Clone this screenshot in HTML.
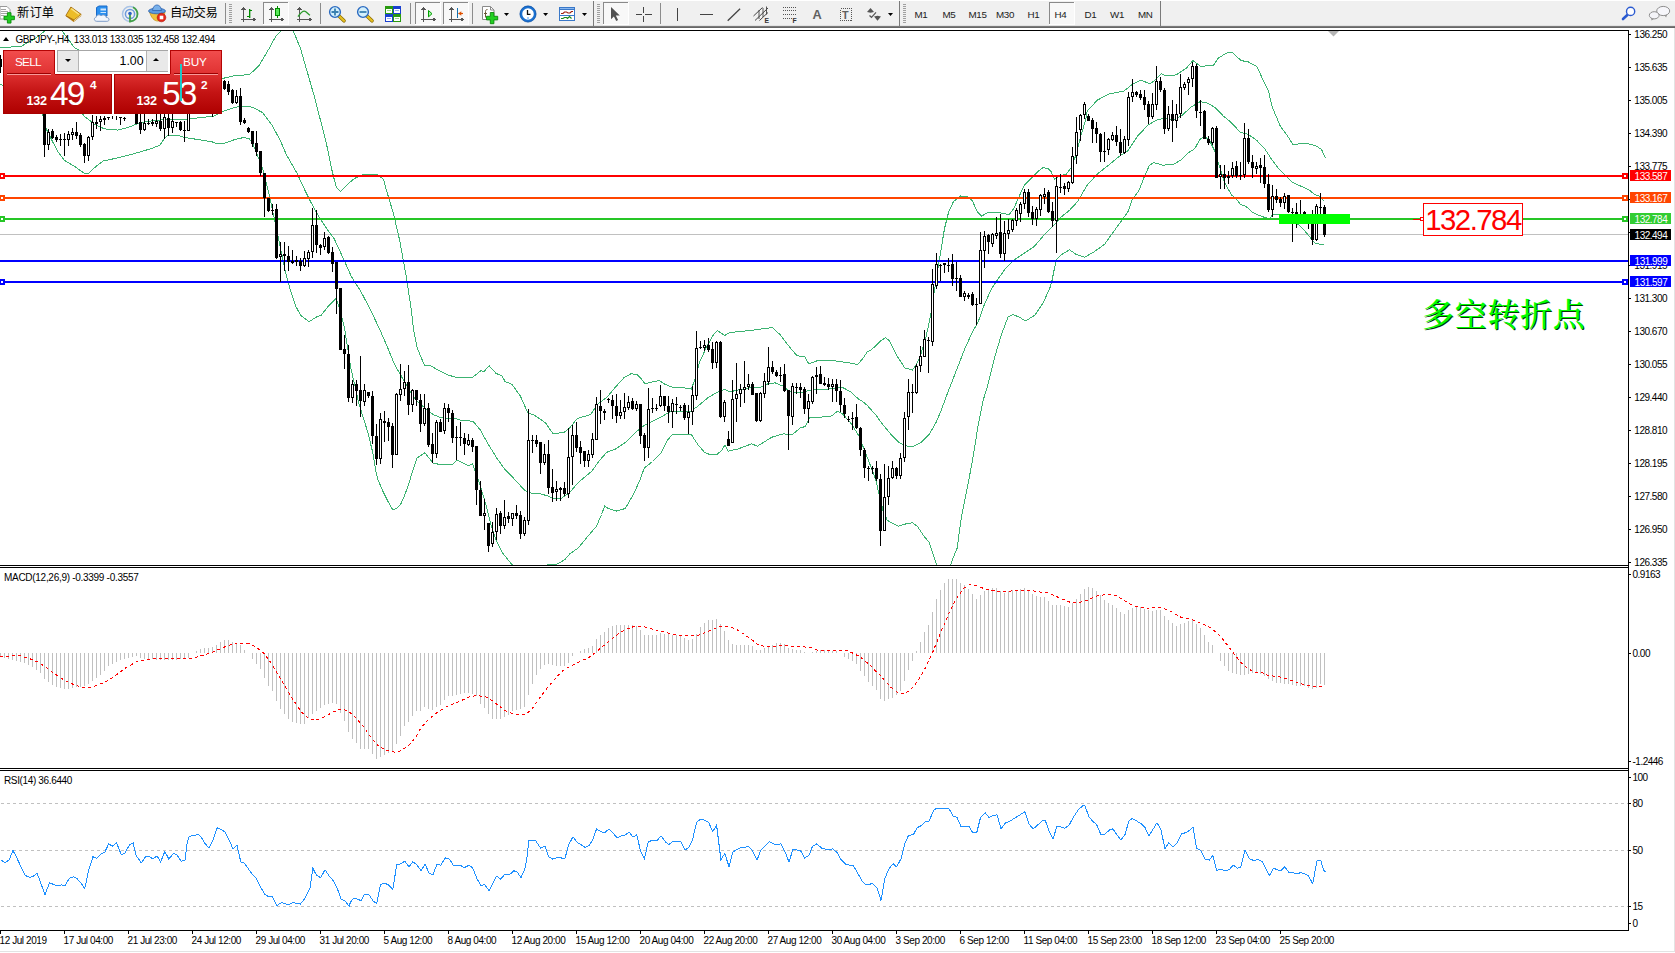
<!DOCTYPE html>
<html lang="zh-CN">
<head>
<meta charset="utf-8">
<title>GBPJPY-,H4</title>
<style>
html,body{margin:0;padding:0;background:#fff;}
body{width:1675px;height:953px;position:relative;overflow:hidden;font-family:"Liberation Sans","Noto Sans CJK SC",sans-serif;}
.t{position:absolute;white-space:pre;font-family:"Liberation Sans","Noto Sans CJK SC",sans-serif;}
.pl{position:absolute;left:1630px;width:41px;height:11px;}
.cn{position:absolute;white-space:nowrap;font-family:"Liberation Serif","Noto Serif CJK SC",serif;font-weight:500;font-size:32px;line-height:44px;color:#00ff00;text-shadow:1px 1px 0 #043804;letter-spacing:0.7px;}
#tb{position:absolute;left:0;top:0;width:1675px;height:26px;background:#f0f0f0;border-top:1px solid #fff;box-sizing:border-box;}
#tbl{position:absolute;left:0;top:25px;width:1675px;height:3px;background:linear-gradient(#e2e2e2 0 33.3%,#7a7a7a 33.3% 66.6%,#666 66.6% 100%);}
#chart{position:absolute;left:0;top:0;width:1675px;height:953px;}
.tf{position:absolute;top:8px;height:14px;line-height:14px;font-size:9.8px;color:#222;letter-spacing:-0.3px;white-space:nowrap;}
.sep{position:absolute;top:3px;width:1px;height:21px;background:#a8a8a8;box-shadow:1px 0 0 #fff;}
.grip{position:absolute;top:4px;width:3px;height:19px;background:repeating-linear-gradient(#9c9c9c 0 1px,#f0f0f0 1px 2px);}
.btn{position:absolute;top:2px;height:22px;box-sizing:border-box;border:1px solid #c4c4c4;background:#f8f8f8;}
.ic{position:absolute;top:0;}
.cnb{position:absolute;top:5px;height:16px;line-height:16px;font-size:12.3px;color:#000;white-space:nowrap;font-family:"Liberation Sans","Noto Sans CJK SC",sans-serif;}
.dd{position:absolute;top:12px;width:0;height:0;border-left:3px solid transparent;border-right:3px solid transparent;border-top:3px solid #000;}
/* one click panel */
#oc{position:absolute;left:0;top:0;}
.red{position:absolute;background:linear-gradient(#ef4a4a,#b40000);}
</style>
</head>
<body>
<div id="tb"></div><div id="tbl"></div>
<svg class="ic" width="1675" height="28" viewBox="0 0 1675 28">
<g shape-rendering="crispEdges">
<rect x="263" y="2" width="26" height="23" fill="#f8f8f8"/><rect x="263" y="2" width="25" height="1" fill="#8a8a8a"/><rect x="263" y="2" width="1" height="22" fill="#8a8a8a"/><rect x="288" y="2" width="1" height="23" fill="#fff"/><rect x="263" y="24" width="26" height="1" fill="#fff"/>
<rect x="415" y="2" width="26" height="23" fill="#f8f8f8"/><rect x="415" y="2" width="25" height="1" fill="#8a8a8a"/><rect x="415" y="2" width="1" height="22" fill="#8a8a8a"/><rect x="440" y="2" width="1" height="23" fill="#fff"/><rect x="415" y="24" width="26" height="1" fill="#fff"/>
<rect x="443" y="2" width="26" height="23" fill="#f8f8f8"/><rect x="443" y="2" width="25" height="1" fill="#8a8a8a"/><rect x="443" y="2" width="1" height="22" fill="#8a8a8a"/><rect x="468" y="2" width="1" height="23" fill="#fff"/><rect x="443" y="24" width="26" height="1" fill="#fff"/>
<rect x="603" y="2" width="26" height="23" fill="#f8f8f8"/><rect x="603" y="2" width="25" height="1" fill="#8a8a8a"/><rect x="603" y="2" width="1" height="22" fill="#8a8a8a"/><rect x="628" y="2" width="1" height="23" fill="#fff"/><rect x="603" y="24" width="26" height="1" fill="#fff"/>
<rect x="1049" y="2" width="26" height="23" fill="#f8f8f8"/><rect x="1049" y="2" width="25" height="1" fill="#8a8a8a"/><rect x="1049" y="2" width="1" height="22" fill="#8a8a8a"/><rect x="1074" y="2" width="1" height="23" fill="#fff"/><rect x="1049" y="24" width="26" height="1" fill="#fff"/>
<rect x="225" y="3" width="1" height="21" fill="#8c8c8c"/>
<rect x="320" y="3" width="1" height="21" fill="#8c8c8c"/>
<rect x="410" y="3" width="1" height="21" fill="#8c8c8c"/>
<rect x="472" y="3" width="1" height="21" fill="#8c8c8c"/>
<rect x="660" y="3" width="1" height="21" fill="#8c8c8c"/>
<rect x="1160" y="1" width="1" height="25" fill="#7a7a7a"/>
<rect x="593" y="1" width="1" height="25" fill="#7a7a7a"/>
<rect x="899" y="1" width="1" height="25" fill="#7a7a7a"/>
<rect x="229" y="4" width="3" height="1" fill="#a0a0a0"/><rect x="229" y="6" width="3" height="1" fill="#a0a0a0"/><rect x="229" y="8" width="3" height="1" fill="#a0a0a0"/><rect x="229" y="10" width="3" height="1" fill="#a0a0a0"/><rect x="229" y="12" width="3" height="1" fill="#a0a0a0"/><rect x="229" y="14" width="3" height="1" fill="#a0a0a0"/><rect x="229" y="16" width="3" height="1" fill="#a0a0a0"/><rect x="229" y="18" width="3" height="1" fill="#a0a0a0"/><rect x="229" y="20" width="3" height="1" fill="#a0a0a0"/><rect x="229" y="22" width="3" height="1" fill="#a0a0a0"/>
<rect x="597" y="4" width="3" height="1" fill="#a0a0a0"/><rect x="597" y="6" width="3" height="1" fill="#a0a0a0"/><rect x="597" y="8" width="3" height="1" fill="#a0a0a0"/><rect x="597" y="10" width="3" height="1" fill="#a0a0a0"/><rect x="597" y="12" width="3" height="1" fill="#a0a0a0"/><rect x="597" y="14" width="3" height="1" fill="#a0a0a0"/><rect x="597" y="16" width="3" height="1" fill="#a0a0a0"/><rect x="597" y="18" width="3" height="1" fill="#a0a0a0"/><rect x="597" y="20" width="3" height="1" fill="#a0a0a0"/><rect x="597" y="22" width="3" height="1" fill="#a0a0a0"/>
<rect x="903" y="4" width="3" height="1" fill="#a0a0a0"/><rect x="903" y="6" width="3" height="1" fill="#a0a0a0"/><rect x="903" y="8" width="3" height="1" fill="#a0a0a0"/><rect x="903" y="10" width="3" height="1" fill="#a0a0a0"/><rect x="903" y="12" width="3" height="1" fill="#a0a0a0"/><rect x="903" y="14" width="3" height="1" fill="#a0a0a0"/><rect x="903" y="16" width="3" height="1" fill="#a0a0a0"/><rect x="903" y="18" width="3" height="1" fill="#a0a0a0"/><rect x="903" y="20" width="3" height="1" fill="#a0a0a0"/><rect x="903" y="22" width="3" height="1" fill="#a0a0a0"/>
</g>
<path d="M0 6.500h7l3 3v9.500h-10z" fill="#fff" stroke="#9a9a9a" stroke-width="1"/>
<path d="M1 9.500h5M1 11.500h7M1 13.500h7M1 15.500h3" stroke="#a4a4a4" stroke-width="1"/>
<path d="M7.400 12.700h3.600v3.400h3.400v3.600h-3.400v3.400h-3.600v-3.400h-3.400v-3.600h3.400z" fill="#22cc22" stroke="#0a8a0a" stroke-width="0.900"/>
<path d="M70.900 7l10.300 7.400v1.600l-7.500 6-7.900-5.800z" fill="#b87c10"/>
<path d="M70.900 7l10.300 7.400-7.200 5.600-8.200-4.400z" fill="#ecbc28" stroke="#a06a10" stroke-width="0.800"/>
<path d="M71.300 8.600l7.600 5.600" stroke="#fae28a" stroke-width="1.400" fill="none"/>
<path d="M74 20.700l7.200-5.600" stroke="#f4e4b0" stroke-width="0.900" fill="none"/>
<path d="M96.500 7.500l2.500-1.500h8v10h-10.500z" fill="#2a90f0" stroke="#1a6ac8" stroke-width="1"/>
<path d="M100.500 8.500h5.500v2h-5.500zM100.500 12h5.500v1h-5.500z" fill="#cfe6fc"/>
<path d="M96.800 21.300c-3 0-3.300-3.700-0.600-4.100 0.300-2.500 3.600-3.100 4.800-1.300 1.700-1.900 5.200-0.900 5.200 1.600 3.200-0.400 4 3.800 0.700 3.800z" fill="#f2f6fc" stroke="#7e9cc8" stroke-width="1"/>
<circle cx="130" cy="14" r="7.500" fill="none" stroke="#a9c3e6" stroke-width="1.500"/>
<circle cx="130" cy="14" r="4.600" fill="none" stroke="#6d9bdc" stroke-width="1.500"/>
<path d="M130 14v7.500c4.500-0.500 7.500-3.600 7.500-7.500-0.200-3-2-5.600-4.500-6.800" fill="none" stroke="#42a046" stroke-width="1.800"/>
<circle cx="130" cy="13.500" r="1.800" fill="#2c62c8"/>
<path d="M149.500 12c2 6 4.500 9 8.500 9s6-3.500 7-9z" fill="#f0c23c" stroke="#c8961a" stroke-width="0.800"/>
<ellipse cx="157" cy="11" rx="8.500" ry="2.800" fill="#5c9ade" stroke="#2c62b0" stroke-width="0.800"/>
<path d="M152.500 10.500c0.500-4 2.500-5.500 4.500-5.500s4 1.500 4.500 5.500z" fill="#78b0ea" stroke="#2c62b0" stroke-width="0.800"/>
<circle cx="161.500" cy="17.500" r="4.300" fill="#e42a1a" stroke="#b01008" stroke-width="0.600"/>
<rect x="159.700" y="15.700" width="3.600" height="3.600" fill="#fff"/>
<g shape-rendering="crispEdges">
<g fill="#555"><rect x="243" y="8" width="1" height="14"/><rect x="241" y="19" width="13" height="1"/><path d="M243.5 6.500l2.300 3.200h-4.600z"/><path d="M256 19.500l-3.200-2.300v4.600z"/></g>
<g fill="#555"><rect x="271" y="8" width="1" height="14"/><rect x="269" y="19" width="13" height="1"/><path d="M271.5 6.500l2.300 3.200h-4.600z"/><path d="M284 19.500l-3.200-2.300v4.600z"/></g>
<g fill="#555"><rect x="299" y="8" width="1" height="14"/><rect x="297" y="19" width="13" height="1"/><path d="M299.5 6.500l2.300 3.200h-4.600z"/><path d="M312 19.500l-3.200-2.300v4.600z"/></g>
<g fill="#555"><rect x="423" y="8" width="1" height="14"/><rect x="421" y="19" width="13" height="1"/><path d="M423.5 6.500l2.300 3.200h-4.600z"/><path d="M436 19.500l-3.200-2.300v4.600z"/></g>
<g fill="#555"><rect x="451" y="8" width="1" height="14"/><rect x="449" y="19" width="13" height="1"/><path d="M451.5 6.500l2.300 3.200h-4.600z"/><path d="M464 19.500l-3.200-2.300v4.600z"/></g>
<rect x="249" y="9" width="1" height="9" fill="#008a00"/><rect x="250" y="10" width="2" height="1" fill="#008a00"/><rect x="247" y="16" width="2" height="1" fill="#008a00"/>
<rect x="249" y="9" width="2" height="9" fill="#008a00" opacity="0.35"/>
<rect x="277" y="6" width="1" height="12" fill="#008a00"/>
<rect x="275" y="8" width="5" height="8" fill="#008a00"/><rect x="276" y="9" width="3" height="6" fill="#58e858"/>
<rect x="457" y="8" width="1" height="10" fill="#1070b0"/>
</g>
<path d="M298 16.700c2-3 4-5.500 6.300-5.500 2 0 3.500 2.800 5.700 4" stroke="#2a9a2a" stroke-width="1.300" fill="none"/>
<path d="M428.500 10.500l3.500 3.200-3.500 3.200z" fill="#a8f0a8" stroke="#00a000" stroke-width="1"/>
<path d="M463 13.500h-4.500" stroke="#e05000" stroke-width="1.200"/><path d="M458.300 13.500l3-2.300v4.600z" fill="#e05000"/>
<path d="M339.0 16l5 4.800" stroke="#8a6a00" stroke-width="3.600" stroke-linecap="round"/>
<path d="M339.0 16l5 4.800" stroke="#e6c020" stroke-width="2.200" stroke-linecap="round"/>
<circle cx="335" cy="12" r="5.400" fill="#d4f0fc" stroke="#2a6ac0" stroke-width="1.400"/>
<path d="M331.5 12h7M335 8.500v7" stroke="#3a80b0" stroke-width="1.800"/>
<path d="M367.0 16l5 4.800" stroke="#8a6a00" stroke-width="3.600" stroke-linecap="round"/>
<path d="M367.0 16l5 4.800" stroke="#e6c020" stroke-width="2.200" stroke-linecap="round"/>
<circle cx="363" cy="12" r="5.400" fill="#d4f0fc" stroke="#2a6ac0" stroke-width="1.400"/>
<path d="M359.5 12h7" stroke="#3a80b0" stroke-width="1.800"/>
<g shape-rendering="crispEdges">
<rect x="385" y="6" width="8" height="8" fill="#2a9a10"/>
<rect x="386" y="9" width="6" height="4" fill="#fff"/>
<rect x="387" y="10" width="4" height="1" fill="#9ad88a"/>
<rect x="393" y="6" width="8" height="8" fill="#1a40d0"/>
<rect x="394" y="9" width="6" height="4" fill="#fff"/>
<rect x="395" y="10" width="4" height="1" fill="#9ab0f0"/>
<rect x="385" y="14" width="8" height="8" fill="#1a40d0"/>
<rect x="386" y="17" width="6" height="4" fill="#fff"/>
<rect x="387" y="18" width="4" height="1" fill="#9ab0f0"/>
<rect x="393" y="14" width="8" height="8" fill="#2a9a10"/>
<rect x="394" y="17" width="6" height="4" fill="#fff"/>
<rect x="395" y="18" width="4" height="1" fill="#9ad88a"/>
</g>
<path d="M482.500 6.500h8l3.500 3.500v9.500h-11.500z" fill="#fff" stroke="#8a8a8a" stroke-width="1"/>
<path d="M490.500 6.500v3.500h3.500" fill="none" stroke="#8a8a8a" stroke-width="1"/>
<path d="M487.500 9.500c-1.500 0-2 0.800-2 2v6M484 13.500h3" fill="none" stroke="#6a5a3a" stroke-width="1"/>
<path d="M490.300 12.500h3.600v3.800h3.800v3.600h-3.800v3.800h-3.600v-3.800h-3.800v-3.600h3.800z" fill="#22d022" stroke="#0a8a0a" stroke-width="0.900"/>
<path d="M504.0 13h5l-2.500 3z" fill="#000"/>
<path d="M543.1 13h5l-2.500 3z" fill="#000"/>
<path d="M582.0 13h5l-2.500 3z" fill="#000"/>
<path d="M888.0 13h5l-2.500 3z" fill="#000"/>
<circle cx="528" cy="14" r="7" fill="#fff" stroke="#1a70d0" stroke-width="2.400"/>
<circle cx="528" cy="14" r="8.100" fill="none" stroke="#0a4a9c" stroke-width="0.600"/>
<path d="M527.500 10v4.300h3" stroke="#111" stroke-width="1.300" fill="none"/>
<rect x="527" y="17.500" width="2" height="1" fill="#4aa0ff"/>
<g shape-rendering="crispEdges">
<rect x="559" y="7" width="16" height="14" fill="#3a78c8"/>
<rect x="560" y="10" width="14" height="5" fill="#fff"/><rect x="560" y="16" width="14" height="4" fill="#fff"/>
<rect x="560" y="8" width="14" height="1" fill="#8ab8f0"/>
</g>
<path d="M561 13.500h2l1.500-1.500h2l1.500 1h2l1.500-1.500h1.500" stroke="#a02010" stroke-width="1.100" fill="none"/>
<path d="M561 18.500h2l1.500-1h2l1 1 2-2 2 2" stroke="#1a8a1a" stroke-width="1.100" fill="none"/>
<path d="M611 7v12.200l2.900-2.700 2.300 4.600 1.900-1-2.300-4.500h4z" fill="#505050"/>
<g shape-rendering="crispEdges" fill="#444"><rect x="643" y="7" width="1" height="6"/><rect x="643" y="16" width="1" height="6"/><rect x="636" y="14" width="6" height="1"/><rect x="645" y="14" width="7" height="1"/>
<rect x="677" y="8" width="1" height="13"/><rect x="700" y="14" width="13" height="1"/></g>
<path d="M727.700 20.800l12.400-12.100" stroke="#444" stroke-width="1.300"/>
<g stroke="#444" stroke-width="1" fill="none"><path d="M753.500 16l9-8.500M755 20.500l13-12.500M759.500 20.500l8.500-8"/><path d="M759 10v9M763 8v9M766.500 6.500v8" stroke-width="0.900"/></g>
<text x="764.600" y="22.800" font-family="Liberation Sans,sans-serif" font-size="6.800" font-weight="700" fill="#333">E</text>
<g stroke="#555" stroke-width="1" stroke-dasharray="1 1" shape-rendering="crispEdges"><path d="M783 7.500h14M783 10.500h14M783 14.500h14M783 18.500h9"/></g>
<text x="792.600" y="22.800" font-family="Liberation Sans,sans-serif" font-size="6.800" font-weight="700" fill="#333">F</text>
<text x="812.600" y="19.200" font-family="Liberation Sans,sans-serif" font-size="12.800" font-weight="700" fill="#606060">A</text>
<rect x="840.500" y="8.500" width="11" height="12" fill="none" stroke="#555" stroke-width="1" stroke-dasharray="1 1" shape-rendering="crispEdges"/>
<text x="842" y="18.800" font-family="Liberation Sans,sans-serif" font-size="10.800" font-weight="700" fill="#606060">T</text>
<path d="M867 12l3.500-4 3.500 4-3.500 0.800z" fill="#555"/><path d="M874 16.500l3.500-0.800 3.500 0.800-3.500 4.200z" fill="#555"/><path d="M869.500 15.500l2 1.800 4.500-5" stroke="#555" stroke-width="1.200" fill="none"/>
<path d="M1627.300 15l-4.300 4" stroke="#2a5ad0" stroke-width="2.600" stroke-linecap="round"/>
<circle cx="1630.600" cy="11.400" r="4.100" fill="#fdfdff" stroke="#2a5ad0" stroke-width="1.400"/>
<path d="M1664.300 15l1.800 2.500 0.900-2.800z" fill="#8a8a8a"/>
<ellipse cx="1663.200" cy="11" rx="6.500" ry="4.600" fill="#f6f6fa" stroke="#8e8e8e" stroke-width="1"/>
<path d="M1651.300 18l0.200 2.600 2.600-1.900z" fill="#8a8a8a"/>
<ellipse cx="1654.200" cy="15.300" rx="4.900" ry="3.600" fill="#f4f4f8" stroke="#8e8e8e" stroke-width="1"/>
</svg>
<div class="cnb" style="left:17px;letter-spacing:0.1px;">新订单</div>
<div class="cnb" style="left:170px;letter-spacing:-0.5px;">自动交易</div>
<div class="tf" style="left:914.5px">M1</div>
<div class="tf" style="left:942.5px">M5</div>
<div class="tf" style="left:968.5px">M15</div>
<div class="tf" style="left:996px">M30</div>
<div class="tf" style="left:1027.5px">H1</div>
<div class="tf" style="left:1054.5px">H4</div>
<div class="tf" style="left:1084.5px">D1</div>
<div class="tf" style="left:1110px">W1</div>
<div class="tf" style="left:1138px">MN</div>
<svg id="chart" width="1675" height="953" viewBox="0 0 1675 953">
<defs><clipPath id="cm"><rect x="0" y="31" width="1628" height="534"/></clipPath></defs>
<g clip-path="url(#cm)" shape-rendering="crispEdges">
<rect x="0" y="234" width="1628" height="1" fill="#c0c0c0"/>
<polyline points="0.5,47.7 21.1,46.3 35.5,38.5 44.5,31.2 50.5,27.5 56.5,27.5 62.3,31.2 74.5,47.7 100.5,60.5 140.5,72.5 180.5,78.5 210.5,80.5 224.5,78.0 235.5,75.5 248.9,74.7 254.0,70.5 259.1,65.5 269.1,48.5 276.2,35.5 281.5,30.5 287.5,27.5 293.5,31.5 300.5,48.5 314.5,97.1 326.2,142.5 331.5,168.5 336.2,187.1 340.5,191.5 347.5,184.2 354.5,178.5 363.5,174.5 377.5,174.5 383.5,179.5 386.5,190.5 393.1,212.3 399.8,240.9 406.5,277.8 411.5,311.4 413.7,330.5 417.0,347.3 424.5,365.5 430.5,365.8 438.0,369.9 448.1,375.0 458.2,378.0 472.4,377.5 480.8,370.8 484.2,371.3 489.2,365.8 495.9,373.3 501.8,375.8 505.2,381.7 511.9,384.2 520.3,396.0 527.8,412.8 534.5,415.3 545.5,422.8 553.0,433.7 563.9,432.5 568.9,428.7 577.3,418.5 590.8,414.5 597.2,404.5 607.3,396.9 615.7,386.8 624.1,377.5 630.8,373.9 636.7,374.2 640.9,378.5 645.1,384.0 652.5,381.8 659.3,380.5 664.4,384.0 672.8,387.5 684.5,388.0 691.2,389.0 694.5,380.9 699.5,362.5 706.3,347.4 713.0,335.5 717.2,330.5 724.8,335.5 729.8,332.5 750.0,330.5 772.5,327.5 780.2,334.8 788.5,345.7 797.0,355.8 804.5,356.5 808.7,363.8 817.1,360.8 833.9,360.8 847.3,362.5 857.4,364.5 862.5,359.1 867.5,351.5 870.5,350.7 880.5,341.1 885.5,337.5 889.7,341.1 897.3,356.3 904.8,368.0 912.4,370.0 916.5,364.5 920.8,354.5 925.8,337.8 930.9,314.3 935.9,280.7 940.9,250.5 944.5,228.5 948.5,212.5 953.5,201.5 960.5,196.0 967.2,196.9 972.3,200.7 977.3,212.0 981.5,216.2 987.4,212.8 995.8,212.0 1004.1,213.7 1009.2,214.5 1014.2,207.8 1019.3,196.0 1024.3,185.1 1031.0,178.4 1037.7,171.7 1042.8,167.8 1047.8,168.3 1051.1,171.7 1054.5,179.3 1059.5,175.9 1066.3,174.2 1071.3,167.5 1076.3,154.1 1081.4,133.9 1085.5,120.5 1087.3,111.0 1097.4,100.1 1109.1,93.9 1124.2,90.9 1132.5,84.1 1141.0,79.9 1149.4,83.8 1154.5,80.8 1161.1,73.7 1166.2,75.8 1176.3,74.9 1186.3,68.2 1193.0,60.5 1201.5,67.0 1208.2,65.3 1213.2,65.7 1218.2,58.1 1226.5,53.1 1232.5,52.5 1240.9,60.5 1248.5,62.0 1256.8,66.5 1263.5,80.8 1268.5,90.9 1271.9,106.0 1275.3,114.4 1280.3,126.1 1287.1,135.3 1292.9,144.5 1305.5,143.2 1315.5,145.5 1321.5,149.5 1325.5,158.0" fill="none" stroke="#3cb371" stroke-width="1" />
<polyline points="0.5,84.5 30.5,95.5 60.5,102.5 80.5,111.5 84.5,116.5 94.5,124.2 104.5,128.9 118.0,130.1 128.1,127.5 139.5,122.9 151.5,120.9 168.5,119.2 185.2,119.5 201.5,117.5 213.5,116.2 222.9,111.5 232.2,108.3 240.5,106.1 252.3,107.1 262.4,112.5 272.5,125.9 280.5,141.0 286.2,154.2 297.5,174.2 305.0,190.5 310.9,202.3 319.3,217.4 327.5,229.9 334.4,239.2 344.5,261.0 351.1,276.1 361.2,292.1 371.3,311.4 381.4,333.2 387.5,347.3 394.4,364.1 401.1,375.8 407.8,387.5 416.2,400.2 424.5,407.7 433.0,414.5 441.4,417.8 454.8,418.5 463.2,420.8 472.9,421.1 480.0,429.5 488.4,444.5 496.8,458.1 505.2,469.8 513.5,478.2 524.5,490.1 529.5,492.9 539.5,493.5 547.9,496.0 553.0,498.5 561.4,498.2 569.8,492.5 578.2,482.5 591.5,471.5 600.0,459.9 606.7,452.3 615.7,448.9 625.8,442.2 634.1,433.8 642.5,426.5 652.5,421.2 662.7,416.2 669.5,412.0 681.1,411.1 691.2,411.1 697.9,406.1 708.0,397.7 718.1,391.8 724.8,389.3 729.8,391.8 741.5,389.3 751.5,387.5 760.0,387.5 768.5,383.5 775.2,382.9 783.5,386.3 788.5,391.0 798.5,393.0 807.0,391.0 817.1,389.0 828.9,389.0 842.3,387.3 850.5,391.8 859.1,399.5 861.5,400.5 867.3,405.5 875.7,414.8 882.4,424.0 890.8,434.1 899.2,442.5 905.9,445.8 912.5,446.7 921.0,442.5 929.4,434.1 936.1,422.3 941.1,410.5 947.5,393.2 956.0,371.4 964.5,349.5 972.8,331.1 977.9,322.7 984.5,304.2 991.3,289.1 998.0,279.0 1005.8,268.2 1014.2,259.8 1024.3,253.1 1034.4,246.4 1044.5,234.5 1052.8,226.3 1061.2,217.0 1069.5,210.3 1078.0,201.1 1087.3,184.9 1097.4,174.0 1109.1,164.7 1119.2,156.3 1127.5,151.3 1137.5,136.2 1147.7,125.3 1157.8,119.4 1164.5,118.5 1174.5,119.4 1181.3,116.0 1191.4,106.8 1199.8,101.8 1206.5,102.5 1214.9,107.5 1223.3,116.0 1231.5,122.8 1240.0,132.0 1248.5,134.5 1256.8,140.4 1265.2,149.5 1271.9,159.7 1278.3,168.1 1284.5,174.3 1292.1,181.9 1299.7,185.7 1308.5,189.5 1314.8,194.5 1319.8,196.4 1324.2,201.0" fill="none" stroke="#3cb371" stroke-width="1" />
<polyline points="4.5,104.5 30.5,106.5 42.5,113.5 45.5,127.5 50.5,137.5 57.5,151.1 64.3,160.3 74.4,166.2 84.5,173.5 88.5,173.5 96.2,166.2 102.9,161.1 118.0,157.8 134.8,153.5 151.5,148.5 160.0,145.2 165.0,137.5 168.5,135.1 176.5,135.1 185.2,137.5 201.9,140.2 212.0,141.8 217.0,144.0 223.5,143.5 235.5,139.3 243.9,137.5 248.9,138.5 252.3,142.5 262.4,167.9 269.1,194.5 277.3,232.5 285.5,272.5 290.7,291.2 295.8,306.3 300.8,315.5 309.2,321.8 315.9,317.2 320.9,315.5 327.5,307.2 336.0,298.3 339.5,308.0 344.5,328.2 350.7,367.5 359.1,404.4 367.5,431.2 372.5,451.4 375.7,470.5 377.7,478.9 382.5,490.5 387.7,500.9 393.0,510.2 397.2,507.8 400.8,504.1 404.5,495.7 408.7,484.1 412.0,473.2 417.0,458.1 424.9,452.7 433.0,463.1 441.4,464.8 453.1,464.0 457.3,460.1 468.2,465.5 472.5,464.0 475.8,472.5 480.8,487.5 485.8,504.4 490.9,524.5 495.9,539.5 502.5,553.0 512.7,565.5 520.5,572.5 540.5,572.5 547.9,564.8 556.3,564.5 564.7,559.8 569.8,553.9 578.2,548.0 586.5,537.9 596.5,526.2 601.5,514.5 604.7,506.0 608.4,508.5 616.8,511.1 625.2,508.5 633.5,494.3 640.3,479.2 644.2,468.2 652.5,461.5 661.0,453.1 667.7,439.7 672.8,434.3 691.2,434.3 697.9,444.7 704.5,452.3 709.7,454.5 716.5,454.8 721.5,450.5 724.8,445.1 728.2,451.1 738.2,448.9 751.5,443.9 757.5,446.1 765.1,441.4 771.8,437.2 783.5,433.8 791.9,435.0 800.3,427.9 805.4,426.5 809.5,417.5 822.2,417.0 832.2,415.9 837.3,411.1 842.3,413.7 850.7,422.9 858.9,435.8 867.3,457.5 875.7,479.4 879.9,497.9 883.2,511.3 887.4,520.5 898.3,526.1 905.9,523.9 912.5,522.7 917.5,526.4 923.5,535.5 929.1,542.3 935.3,560.5 937.0,565.5 940.5,575.5 947.5,575.5 950.5,565.5 952.1,560.5 957.1,548.2 961.3,518.0 968.0,484.4 973.0,457.5 978.1,425.7 983.1,400.5 987.9,384.8 994.5,357.9 1001.4,334.5 1008.1,316.8 1013.1,314.5 1019.8,317.5 1025.7,321.0 1034.9,315.1 1043.3,302.5 1050.0,287.5 1052.0,280.5 1056.2,259.8 1061.2,254.8 1069.5,249.8 1076.3,254.5 1084.7,257.3 1094.8,251.4 1104.9,243.9 1111.5,234.5 1120.0,222.9 1128.4,211.1 1131.8,200.5 1139.3,189.9 1144.4,176.5 1149.4,165.5 1153.5,162.7 1162.8,165.1 1172.9,164.7 1181.3,159.7 1188.0,153.0 1194.7,148.8 1199.8,139.5 1204.8,136.2 1209.8,141.2 1214.9,151.3 1219.9,168.1 1224.9,183.2 1231.5,194.9 1235.8,198.5 1240.5,204.5 1245.5,206.1 1253.1,212.7 1259.4,215.5 1265.7,217.8 1269.5,218.7 1273.2,214.0 1279.5,214.9 1290.5,218.5 1298.5,224.7 1306.0,232.3 1311.0,238.5 1314.8,243.0 1321.1,244.5 1324.2,245.1" fill="none" stroke="#3cb371" stroke-width="1" />
<rect x="0" y="175" width="1628" height="2" fill="#ff0000"/>
<rect x="0" y="197" width="1628" height="2" fill="#ff4500"/>
<rect x="0" y="218" width="1628" height="2" fill="#26c626"/>
<rect x="0" y="260" width="1628" height="2" fill="#0000ff"/>
<rect x="0" y="281" width="1628" height="2" fill="#0000ff"/>
<path d="M0 55h1v18h-1zM-1 59h3v8h-3zM44 100h1v57h-1zM43 100h3v45h-3zM48 129h1v21h-1zM47 132h3v13h-3zM52 129h1v10h-1zM51 131h3v7h-3zM56 135h1v7h-1zM55 137h3v3h-3zM60 134h1v12h-1zM59 139h3v1h-3zM64 133h1v23h-1zM63 139h3v1h-3zM68 131h1v15h-1zM67 134h3v6h-3zM72 128h1v12h-1zM71 132h3v3h-3zM76 122h1v17h-1zM75 132h3v4h-3zM80 133h1v14h-1zM79 135h3v10h-3zM84 143h1v20h-1zM83 144h3v12h-3zM88 136h1v25h-1zM87 137h3v19h-3zM92 115h1v25h-1zM91 122h3v15h-3zM96 116h1v13h-1zM95 122h3v2h-3zM100 116h1v15h-1zM99 119h3v3h-3zM104 116h1v9h-1zM103 118h3v2h-3zM108 117h1v3h-1zM107 117h3v1h-3zM112 116h1v3h-1zM116 116h1v4h-1zM120 117h1v8h-1zM119 117h3v1h-3zM124 117h1v4h-1zM123 118h3v1h-3zM136 108h1v16h-1zM135 108h3v16h-3zM140 110h1v24h-1zM139 122h3v8h-3zM144 110h1v21h-1zM143 123h3v7h-3zM148 119h1v6h-1zM147 123h3v1h-3zM152 119h1v7h-1zM151 122h3v2h-3zM156 110h1v17h-1zM155 121h3v3h-3zM160 110h1v21h-1zM159 121h3v8h-3zM164 110h1v29h-1zM163 117h3v12h-3zM168 110h1v26h-1zM167 118h3v10h-3zM172 110h1v23h-1zM171 121h3v7h-3zM176 122h1v5h-1zM175 122h3v1h-3zM180 121h1v10h-1zM179 122h3v8h-3zM184 121h1v21h-1zM183 130h3v1h-3zM188 105h1v26h-1zM187 108h3v23h-3zM212 108h1v9h-1zM211 110h3v1h-3zM224 80h1v10h-1zM223 81h3v8h-3zM228 81h1v14h-1zM227 84h3v8h-3zM232 89h1v15h-1zM231 90h3v13h-3zM236 90h1v14h-1zM235 96h3v7h-3zM240 88h1v37h-1zM239 96h3v26h-3zM244 118h1v6h-1zM243 120h3v3h-3zM248 127h1v6h-1zM247 128h3v4h-3zM252 131h1v16h-1zM251 131h3v13h-3zM256 131h1v25h-1zM255 143h3v9h-3zM260 151h1v25h-1zM259 151h3v22h-3zM264 173h1v44h-1zM263 173h3v25h-3zM268 198h1v14h-1zM267 198h3v13h-3zM272 204h1v11h-1zM271 210h3v1h-3zM276 204h1v55h-1zM275 209h3v49h-3zM280 242h1v40h-1zM279 254h3v3h-3zM284 242h1v29h-1zM283 254h3v2h-3zM288 246h1v25h-1zM287 256h3v6h-3zM292 250h1v14h-1zM291 261h3v2h-3zM296 256h1v10h-1zM295 260h3v2h-3zM300 258h1v13h-1zM299 261h3v5h-3zM304 251h1v16h-1zM303 258h3v8h-3zM308 250h1v17h-1zM307 252h3v7h-3zM312 208h1v50h-1zM311 225h3v27h-3zM316 210h1v43h-1zM315 225h3v20h-3zM320 244h1v11h-1zM319 245h3v3h-3zM324 232h1v18h-1zM323 238h3v9h-3zM328 236h1v18h-1zM327 237h3v16h-3zM332 247h1v25h-1zM331 252h3v12h-3zM336 262h1v52h-1zM335 262h3v27h-3zM340 288h1v62h-1zM339 288h3v62h-3zM344 335h1v34h-1zM343 349h3v5h-3zM348 345h1v57h-1zM347 354h3v44h-3zM352 380h1v23h-1zM351 384h3v14h-3zM356 380h1v26h-1zM355 384h3v7h-3zM360 356h1v61h-1zM359 390h3v11h-3zM364 384h1v22h-1zM363 390h3v12h-3zM368 392h1v6h-1zM367 392h3v4h-3zM372 391h1v53h-1zM371 396h3v40h-3zM376 424h1v41h-1zM375 436h3v23h-3zM380 413h1v51h-1zM379 419h3v40h-3zM384 411h1v31h-1zM383 421h3v2h-3zM388 418h1v23h-1zM387 422h3v5h-3zM392 423h1v45h-1zM391 426h3v29h-3zM396 393h1v62h-1zM395 394h3v61h-3zM400 364h1v37h-1zM399 389h3v6h-3zM404 371h1v25h-1zM403 382h3v7h-3zM408 365h1v50h-1zM407 382h3v23h-3zM412 389h1v23h-1zM411 390h3v15h-3zM416 390h1v16h-1zM415 390h3v10h-3zM420 394h1v38h-1zM419 400h3v24h-3zM424 394h1v32h-1zM423 408h3v16h-3zM428 403h1v44h-1zM427 408h3v37h-3zM432 433h1v30h-1zM431 444h3v10h-3zM436 420h1v38h-1zM435 422h3v32h-3zM440 419h1v13h-1zM439 422h3v10h-3zM444 403h1v31h-1zM443 408h3v23h-3zM448 404h1v18h-1zM447 408h3v5h-3zM452 410h1v33h-1zM451 413h3v25h-3zM456 426h1v34h-1zM455 437h3v1h-3zM460 422h1v24h-1zM459 437h3v1h-3zM464 433h1v22h-1zM463 438h3v6h-3zM468 434h1v12h-1zM467 440h3v5h-3zM472 438h1v14h-1zM471 440h3v7h-3zM476 446h1v59h-1zM475 446h3v44h-3zM480 481h1v35h-1zM479 490h3v26h-3zM484 499h1v31h-1zM483 513h3v3h-3zM488 523h1v29h-1zM487 523h3v23h-3zM492 522h1v25h-1zM491 532h3v12h-3zM496 508h1v32h-1zM495 514h3v18h-3zM500 511h1v23h-1zM499 513h3v13h-3zM504 500h1v29h-1zM503 517h3v9h-3zM508 512h1v11h-1zM507 516h3v3h-3zM512 513h1v13h-1zM511 513h3v6h-3zM516 505h1v14h-1zM515 513h3v3h-3zM520 511h1v28h-1zM519 515h3v19h-3zM524 517h1v19h-1zM523 520h3v14h-3zM528 409h1v116h-1zM527 440h3v81h-3zM532 435h1v18h-1zM531 440h3v1h-3zM536 435h1v12h-1zM535 440h3v4h-3zM540 442h1v32h-1zM539 442h3v21h-3zM544 444h1v21h-1zM543 454h3v9h-3zM548 440h1v54h-1zM547 454h3v34h-3zM552 469h1v33h-1zM551 487h3v6h-3zM556 481h1v20h-1zM555 489h3v3h-3zM560 487h1v14h-1zM559 488h3v2h-3zM564 482h1v14h-1zM563 488h3v6h-3zM568 428h1v70h-1zM567 457h3v37h-3zM572 425h1v60h-1zM571 435h3v22h-3zM576 422h1v30h-1zM575 435h3v13h-3zM580 441h1v23h-1zM579 447h3v6h-3zM584 451h1v16h-1zM583 451h3v10h-3zM588 450h1v17h-1zM587 454h3v7h-3zM592 433h1v25h-1zM591 439h3v16h-3zM596 397h1v43h-1zM595 404h3v36h-3zM600 390h1v34h-1zM599 406h3v5h-3zM604 409h1v11h-1zM603 411h3v2h-3zM608 398h1v5h-1zM607 399h3v1h-3zM612 395h1v24h-1zM611 400h3v6h-3zM616 394h1v29h-1zM615 406h3v10h-3zM620 400h1v19h-1zM619 412h3v4h-3zM624 393h1v26h-1zM623 407h3v5h-3zM628 396h1v14h-1zM627 402h3v6h-3zM632 398h1v12h-1zM631 401h3v8h-3zM636 401h1v10h-1zM635 404h3v5h-3zM640 404h1v40h-1zM639 404h3v32h-3zM644 433h1v28h-1zM643 435h3v13h-3zM648 388h1v70h-1zM647 409h3v39h-3zM652 398h1v15h-1zM651 408h3v1h-3zM656 404h1v7h-1zM655 408h3v1h-3zM660 385h1v22h-1zM659 396h3v10h-3zM664 396h1v15h-1zM663 396h3v10h-3zM668 396h1v27h-1zM667 406h3v6h-3zM672 399h1v29h-1zM671 403h3v9h-3zM676 397h1v17h-1zM675 404h3v1h-3zM680 405h1v6h-1zM679 407h3v1h-3zM684 403h1v17h-1zM683 405h3v13h-3zM688 405h1v29h-1zM687 412h3v6h-3zM692 386h1v39h-1zM691 395h3v17h-3zM696 331h1v69h-1zM695 348h3v48h-3zM700 341h1v8h-1zM699 347h3v1h-3zM704 340h1v11h-1zM703 345h3v3h-3zM708 338h1v14h-1zM707 345h3v5h-3zM712 342h1v27h-1zM711 349h3v14h-3zM716 341h1v27h-1zM715 342h3v21h-3zM720 341h1v77h-1zM719 342h3v75h-3zM724 400h1v22h-1zM723 402h3v15h-3zM728 431h1v15h-1zM727 439h3v7h-3zM732 380h1v63h-1zM731 399h3v44h-3zM736 363h1v59h-1zM735 394h3v5h-3zM740 384h1v23h-1zM739 389h3v5h-3zM744 361h1v42h-1zM743 387h3v3h-3zM748 374h1v16h-1zM747 384h3v3h-3zM752 382h1v13h-1zM751 384h3v11h-3zM756 393h1v29h-1zM755 393h3v28h-3zM760 392h1v30h-1zM759 393h3v28h-3zM764 373h1v25h-1zM763 381h3v13h-3zM768 347h1v38h-1zM767 367h3v15h-3zM772 361h1v13h-1zM771 367h3v5h-3zM776 370h1v7h-1zM775 372h3v4h-3zM780 367h1v15h-1zM779 375h3v1h-3zM784 364h1v28h-1zM783 374h3v17h-3zM788 390h1v60h-1zM787 390h3v26h-3zM792 383h1v42h-1zM791 386h3v31h-3zM796 383h1v11h-1zM795 387h3v1h-3zM800 383h1v15h-1zM799 387h3v3h-3zM804 387h1v27h-1zM803 389h3v20h-3zM808 394h1v29h-1zM807 401h3v8h-3zM812 376h1v28h-1zM811 377h3v25h-3zM816 367h1v27h-1zM815 375h3v2h-3zM820 366h1v18h-1zM819 374h3v10h-3zM824 377h1v9h-1zM823 383h3v2h-3zM828 378h1v12h-1zM827 384h3v3h-3zM832 379h1v23h-1zM831 384h3v3h-3zM836 379h1v23h-1zM835 384h3v7h-3zM840 380h1v32h-1zM839 391h3v14h-3zM844 398h1v20h-1zM843 405h3v9h-3zM848 416h1v6h-1zM847 419h3v1h-3zM852 412h1v18h-1zM851 418h3v1h-3zM856 404h1v25h-1zM855 417h3v11h-3zM860 427h1v29h-1zM859 428h3v22h-3zM864 448h1v30h-1zM863 450h3v18h-3zM868 466h1v15h-1zM867 468h3v1h-3zM872 466h1v8h-1zM871 468h3v1h-3zM876 461h1v20h-1zM875 468h3v11h-3zM880 474h1v72h-1zM879 479h3v52h-3zM884 464h1v67h-1zM883 497h3v34h-3zM888 466h1v39h-1zM887 478h3v19h-3zM892 461h1v18h-1zM891 468h3v10h-3zM896 467h1v12h-1zM895 468h3v8h-3zM900 453h1v26h-1zM899 458h3v18h-3zM904 412h1v50h-1zM903 418h3v40h-3zM908 379h1v51h-1zM907 392h3v25h-3zM912 384h1v29h-1zM911 392h3v1h-3zM916 364h1v30h-1zM915 366h3v27h-3zM920 346h1v26h-1zM919 356h3v10h-3zM924 330h1v27h-1zM923 339h3v18h-3zM928 337h1v36h-1zM927 340h3v1h-3zM932 269h1v77h-1zM931 284h3v58h-3zM936 253h1v36h-1zM935 264h3v22h-3zM940 264h1v17h-1zM939 265h3v1h-3zM944 263h1v10h-1zM943 263h3v2h-3zM948 258h1v14h-1zM947 265h3v1h-3zM952 254h1v32h-1zM951 264h3v15h-3zM956 262h1v29h-1zM955 278h3v1h-3zM960 275h1v22h-1zM959 278h3v19h-3zM964 291h1v10h-1zM963 293h3v4h-3zM968 293h1v6h-1zM967 295h3v2h-3zM972 292h1v14h-1zM971 294h3v11h-3zM976 298h1v27h-1zM975 304h3v1h-3zM980 232h1v72h-1zM979 250h3v54h-3zM984 231h1v37h-1zM983 236h3v15h-3zM988 234h1v20h-1zM987 235h3v7h-3zM992 233h1v14h-1zM991 234h3v10h-3zM996 217h1v22h-1zM995 233h3v3h-3zM1000 214h1v44h-1zM999 232h3v22h-3zM1004 221h1v40h-1zM1003 233h3v21h-3zM1008 219h1v20h-1zM1007 230h3v4h-3zM1012 219h1v13h-1zM1011 220h3v10h-3zM1016 208h1v18h-1zM1015 210h3v11h-3zM1020 202h1v20h-1zM1019 204h3v10h-3zM1024 189h1v20h-1zM1023 192h3v12h-3zM1028 189h1v28h-1zM1027 192h3v21h-3zM1032 206h1v19h-1zM1031 212h3v7h-3zM1036 207h1v19h-1zM1035 209h3v10h-3zM1040 194h1v22h-1zM1039 195h3v15h-3zM1044 188h1v16h-1zM1043 194h3v3h-3zM1048 190h1v23h-1zM1047 192h3v20h-3zM1052 202h1v25h-1zM1051 211h3v10h-3zM1056 177h1v76h-1zM1055 186h3v35h-3zM1060 174h1v19h-1zM1059 187h3v1h-3zM1064 183h1v12h-1zM1063 186h3v3h-3zM1068 181h1v11h-1zM1067 182h3v7h-3zM1072 147h1v37h-1zM1071 156h3v27h-3zM1076 117h1v47h-1zM1075 132h3v24h-3zM1080 114h1v27h-1zM1079 115h3v15h-3zM1084 102h1v17h-1zM1083 104h3v11h-3zM1088 114h1v7h-1zM1087 116h3v5h-3zM1092 118h1v25h-1zM1091 120h3v9h-3zM1096 122h1v21h-1zM1095 128h3v6h-3zM1100 133h1v29h-1zM1099 134h3v18h-3zM1104 132h1v30h-1zM1103 151h3v1h-3zM1108 138h1v17h-1zM1107 139h3v11h-3zM1112 132h1v9h-1zM1111 135h3v5h-3zM1116 126h1v20h-1zM1115 135h3v7h-3zM1120 129h1v27h-1zM1119 142h3v11h-3zM1124 136h1v18h-1zM1123 139h3v14h-3zM1128 92h1v54h-1zM1127 97h3v43h-3zM1132 79h1v23h-1zM1131 92h3v5h-3zM1136 91h1v6h-1zM1135 92h3v3h-3zM1140 90h1v10h-1zM1139 94h3v4h-3zM1144 90h1v20h-1zM1143 97h3v8h-3zM1148 101h1v23h-1zM1147 104h3v13h-3zM1152 93h1v26h-1zM1151 104h3v13h-3zM1156 66h1v44h-1zM1155 81h3v24h-3zM1160 77h1v15h-1zM1159 81h3v9h-3zM1164 88h1v46h-1zM1163 90h3v39h-3zM1168 106h1v25h-1zM1167 114h3v15h-3zM1172 100h1v42h-1zM1171 114h3v7h-3zM1176 104h1v24h-1zM1175 114h3v7h-3zM1180 74h1v44h-1zM1179 87h3v27h-3zM1184 82h1v8h-1zM1183 84h3v4h-3zM1188 77h1v18h-1zM1187 79h3v4h-3zM1192 62h1v25h-1zM1191 66h3v13h-3zM1196 64h1v54h-1zM1195 66h3v45h-3zM1200 100h1v26h-1zM1199 112h3v1h-3zM1204 110h1v29h-1zM1203 111h3v28h-3zM1208 136h1v9h-1zM1207 139h3v4h-3zM1212 127h1v18h-1zM1211 128h3v15h-3zM1216 126h1v52h-1zM1215 128h3v50h-3zM1220 165h1v24h-1zM1219 174h3v3h-3zM1224 165h1v24h-1zM1223 174h3v4h-3zM1228 171h1v13h-1zM1227 176h3v2h-3zM1232 162h1v16h-1zM1231 168h3v8h-3zM1236 161h1v17h-1zM1235 166h3v10h-3zM1240 162h1v18h-1zM1239 175h3v1h-3zM1244 123h1v55h-1zM1243 138h3v37h-3zM1248 129h1v35h-1zM1247 138h3v24h-3zM1252 155h1v23h-1zM1251 162h3v6h-3zM1256 162h1v12h-1zM1255 166h3v3h-3zM1260 158h1v25h-1zM1259 165h3v3h-3zM1264 155h1v33h-1zM1263 167h3v17h-3zM1268 174h1v38h-1zM1267 184h3v26h-3zM1272 185h1v32h-1zM1271 196h3v14h-3zM1276 189h1v14h-1zM1275 196h3v4h-3zM1280 197h1v10h-1zM1279 199h3v4h-3zM1284 193h1v16h-1zM1283 196h3v7h-3zM1288 195h1v18h-1zM1287 195h3v17h-3zM1292 208h1v34h-1zM1291 212h3v1h-3zM1296 203h1v25h-1zM1295 212h3v2h-3zM1300 200h1v14h-1zM1299 214h3v1h-3zM1304 211h1v11h-1zM1303 212h3v10h-3zM1308 214h1v15h-1zM1307 216h3v6h-3zM1312 210h1v35h-1zM1311 222h3v18h-3zM1316 204h1v37h-1zM1315 206h3v34h-3zM1320 193h1v21h-1zM1319 207h3v1h-3zM1324 205h1v32h-1zM1323 207h3v28h-3z" fill="#000"/>
<path d="M48 133h1v11h-1zM68 135h1v4h-1zM72 133h1v1h-1zM88 138h1v17h-1zM92 123h1v13h-1zM100 120h1v1h-1zM144 124h1v5h-1zM156 122h1v1h-1zM164 118h1v10h-1zM172 122h1v5h-1zM188 109h1v21h-1zM236 97h1v5h-1zM280 255h1v1h-1zM304 259h1v6h-1zM308 253h1v5h-1zM312 226h1v25h-1zM324 239h1v7h-1zM352 385h1v12h-1zM364 391h1v10h-1zM380 420h1v38h-1zM396 395h1v59h-1zM400 390h1v4h-1zM404 383h1v5h-1zM412 391h1v13h-1zM424 409h1v14h-1zM436 423h1v30h-1zM444 409h1v21h-1zM468 441h1v3h-1zM484 514h1v1h-1zM492 533h1v10h-1zM496 515h1v16h-1zM504 518h1v7h-1zM512 514h1v4h-1zM524 521h1v12h-1zM528 441h1v79h-1zM544 455h1v7h-1zM556 490h1v1h-1zM568 458h1v35h-1zM572 436h1v20h-1zM588 455h1v5h-1zM592 440h1v14h-1zM596 405h1v34h-1zM620 413h1v2h-1zM624 408h1v3h-1zM628 403h1v4h-1zM636 405h1v3h-1zM648 410h1v37h-1zM660 397h1v8h-1zM672 404h1v7h-1zM688 413h1v4h-1zM692 396h1v15h-1zM696 349h1v46h-1zM704 346h1v1h-1zM716 343h1v19h-1zM724 403h1v13h-1zM732 400h1v42h-1zM736 395h1v3h-1zM740 390h1v3h-1zM744 388h1v1h-1zM748 385h1v1h-1zM760 394h1v26h-1zM764 382h1v11h-1zM768 368h1v13h-1zM792 387h1v29h-1zM808 402h1v6h-1zM812 378h1v23h-1zM832 385h1v1h-1zM884 498h1v32h-1zM888 479h1v17h-1zM892 469h1v8h-1zM900 459h1v16h-1zM904 419h1v38h-1zM908 393h1v23h-1zM916 367h1v25h-1zM920 357h1v8h-1zM924 340h1v16h-1zM932 285h1v56h-1zM936 265h1v20h-1zM964 294h1v2h-1zM980 251h1v52h-1zM984 237h1v13h-1zM992 235h1v8h-1zM996 234h1v1h-1zM1004 234h1v19h-1zM1008 231h1v2h-1zM1012 221h1v8h-1zM1016 211h1v9h-1zM1020 205h1v8h-1zM1024 193h1v10h-1zM1036 210h1v8h-1zM1040 196h1v13h-1zM1044 195h1v1h-1zM1056 187h1v33h-1zM1068 183h1v5h-1zM1072 157h1v25h-1zM1076 133h1v22h-1zM1080 116h1v13h-1zM1084 105h1v9h-1zM1108 140h1v9h-1zM1112 136h1v3h-1zM1124 140h1v12h-1zM1128 98h1v41h-1zM1132 93h1v3h-1zM1152 105h1v11h-1zM1156 82h1v22h-1zM1168 115h1v13h-1zM1176 115h1v5h-1zM1180 88h1v25h-1zM1184 85h1v2h-1zM1188 80h1v2h-1zM1192 67h1v11h-1zM1212 129h1v13h-1zM1220 175h1v1h-1zM1232 169h1v6h-1zM1244 139h1v35h-1zM1256 167h1v1h-1zM1272 197h1v12h-1zM1284 197h1v5h-1zM1316 207h1v32h-1z" fill="#fff"/>
<rect x="1279" y="214" width="71" height="10" fill="#00ff00"/>
<rect x="-1" y="173" width="6" height="6" fill="#ff0000"/><rect x="1" y="175" width="2" height="2" fill="#fff"/>
<rect x="1622" y="173" width="6" height="6" fill="#ff0000"/><rect x="1624" y="175" width="2" height="2" fill="#fff"/>
<rect x="-1" y="195" width="6" height="6" fill="#ff4500"/><rect x="1" y="197" width="2" height="2" fill="#fff"/>
<rect x="1622" y="195" width="6" height="6" fill="#ff4500"/><rect x="1624" y="197" width="2" height="2" fill="#fff"/>
<rect x="-1" y="216" width="6" height="6" fill="#26c626"/><rect x="1" y="218" width="2" height="2" fill="#fff"/>
<rect x="1622" y="216" width="6" height="6" fill="#26c626"/><rect x="1624" y="218" width="2" height="2" fill="#fff"/>
<rect x="-1" y="279" width="6" height="6" fill="#0000ff"/><rect x="1" y="281" width="2" height="2" fill="#fff"/>
<rect x="1622" y="279" width="6" height="6" fill="#0000ff"/><rect x="1624" y="281" width="2" height="2" fill="#fff"/>
<rect x="1413" y="219" width="7" height="1" fill="#ff0000"/>
<rect x="1420.5" y="217.5" width="3" height="3" fill="#fff" stroke="#ff0000" stroke-width="1"/>
</g>
<path d="M1328 31h11l-5.5 5.5z" fill="#b4b4b4"/>
<g shape-rendering="crispEdges">
<path d="M0 653h1v4h-1zM4 653h1v5h-1zM8 653h1v6h-1zM12 653h1v7h-1zM16 653h1v8h-1zM20 653h1v9h-1zM24 653h1v10h-1zM28 653h1v12h-1zM32 653h1v14h-1zM36 653h1v17h-1zM40 653h1v20h-1zM44 653h1v26h-1zM48 653h1v29h-1zM52 653h1v32h-1zM56 653h1v34h-1zM60 653h1v35h-1zM64 653h1v36h-1zM68 653h1v36h-1zM72 653h1v35h-1zM76 653h1v34h-1zM80 653h1v34h-1zM84 653h1v33h-1zM88 653h1v31h-1zM92 653h1v28h-1zM96 653h1v25h-1zM100 653h1v22h-1zM104 653h1v18h-1zM108 653h1v13h-1zM112 653h1v11h-1zM116 653h1v9h-1zM120 653h1v7h-1zM124 653h1v6h-1zM128 653h1v5h-1zM132 653h1v4h-1zM136 653h1v3h-1zM140 653h1v5h-1zM144 653h1v6h-1zM148 653h1v6h-1zM152 653h1v6h-1zM156 653h1v7h-1zM160 653h1v7h-1zM164 653h1v7h-1zM168 653h1v7h-1zM172 653h1v7h-1zM176 653h1v7h-1zM180 653h1v6h-1zM184 653h1v6h-1zM188 653h1v5h-1zM196 651h1v2h-1zM200 649h1v4h-1zM204 648h1v5h-1zM208 648h1v5h-1zM212 647h1v6h-1zM216 645h1v8h-1zM220 642h1v11h-1zM224 640h1v13h-1zM228 640h1v13h-1zM232 642h1v11h-1zM236 643h1v10h-1zM240 645h1v8h-1zM244 650h1v3h-1zM252 653h1v6h-1zM256 653h1v11h-1zM260 653h1v16h-1zM264 653h1v25h-1zM268 653h1v33h-1zM272 653h1v38h-1zM276 653h1v48h-1zM280 653h1v56h-1zM284 653h1v61h-1zM288 653h1v66h-1zM292 653h1v69h-1zM296 653h1v70h-1zM300 653h1v71h-1zM304 653h1v71h-1zM308 653h1v65h-1zM312 653h1v61h-1zM316 653h1v58h-1zM320 653h1v55h-1zM324 653h1v52h-1zM328 653h1v51h-1zM332 653h1v50h-1zM336 653h1v51h-1zM340 653h1v60h-1zM344 653h1v68h-1zM348 653h1v79h-1zM352 653h1v86h-1zM356 653h1v90h-1zM360 653h1v96h-1zM364 653h1v96h-1zM368 653h1v96h-1zM372 653h1v101h-1zM376 653h1v106h-1zM380 653h1v104h-1zM384 653h1v102h-1zM388 653h1v100h-1zM392 653h1v99h-1zM396 653h1v91h-1zM400 653h1v83h-1zM404 653h1v73h-1zM408 653h1v69h-1zM412 653h1v63h-1zM416 653h1v58h-1zM420 653h1v58h-1zM424 653h1v54h-1zM428 653h1v56h-1zM432 653h1v57h-1zM436 653h1v54h-1zM440 653h1v52h-1zM444 653h1v47h-1zM448 653h1v43h-1zM452 653h1v43h-1zM456 653h1v42h-1zM460 653h1v41h-1zM464 653h1v40h-1zM468 653h1v40h-1zM472 653h1v41h-1zM476 653h1v43h-1zM480 653h1v51h-1zM484 653h1v55h-1zM488 653h1v61h-1zM492 653h1v66h-1zM496 653h1v66h-1zM500 653h1v66h-1zM504 653h1v64h-1zM508 653h1v62h-1zM512 653h1v58h-1zM516 653h1v57h-1zM520 653h1v56h-1zM524 653h1v54h-1zM528 653h1v42h-1zM532 653h1v31h-1zM536 653h1v22h-1zM540 653h1v16h-1zM544 653h1v12h-1zM548 653h1v11h-1zM552 653h1v12h-1zM556 653h1v13h-1zM560 653h1v13h-1zM564 653h1v13h-1zM568 653h1v10h-1zM572 653h1v3h-1zM580 651h1v2h-1zM584 649h1v4h-1zM588 648h1v5h-1zM592 646h1v7h-1zM596 639h1v14h-1zM600 635h1v18h-1zM604 632h1v21h-1zM608 628h1v25h-1zM612 626h1v27h-1zM616 625h1v28h-1zM620 625h1v28h-1zM624 625h1v28h-1zM628 625h1v28h-1zM632 625h1v28h-1zM636 626h1v27h-1zM640 630h1v23h-1zM644 635h1v18h-1zM648 635h1v18h-1zM652 635h1v18h-1zM656 635h1v18h-1zM660 633h1v20h-1zM664 634h1v19h-1zM668 634h1v19h-1zM672 635h1v18h-1zM676 635h1v18h-1zM680 635h1v18h-1zM684 638h1v15h-1zM688 640h1v13h-1zM692 639h1v14h-1zM696 634h1v19h-1zM700 627h1v26h-1zM704 623h1v30h-1zM708 620h1v33h-1zM712 620h1v33h-1zM716 619h1v34h-1zM720 624h1v29h-1zM724 631h1v22h-1zM728 640h1v13h-1zM732 644h1v9h-1zM736 645h1v8h-1zM740 645h1v8h-1zM744 645h1v8h-1zM748 645h1v8h-1zM752 646h1v7h-1zM756 650h1v3h-1zM760 650h1v3h-1zM764 648h1v5h-1zM768 647h1v6h-1zM772 645h1v8h-1zM776 643h1v10h-1zM780 643h1v10h-1zM784 644h1v9h-1zM788 648h1v5h-1zM792 649h1v4h-1zM796 650h1v3h-1zM800 650h1v3h-1zM804 652h1v1h-1zM812 652h1v1h-1zM816 651h1v2h-1zM820 650h1v3h-1zM824 650h1v3h-1zM828 650h1v3h-1zM832 651h1v2h-1zM836 651h1v2h-1zM844 653h1v4h-1zM848 653h1v6h-1zM852 653h1v8h-1zM856 653h1v11h-1zM860 653h1v18h-1zM864 653h1v23h-1zM868 653h1v29h-1zM872 653h1v33h-1zM876 653h1v37h-1zM880 653h1v46h-1zM884 653h1v48h-1zM888 653h1v46h-1zM892 653h1v45h-1zM896 653h1v42h-1zM900 653h1v38h-1zM904 653h1v28h-1zM908 653h1v17h-1zM912 653h1v8h-1zM916 651h1v2h-1zM920 642h1v11h-1zM924 632h1v21h-1zM928 625h1v28h-1zM932 612h1v41h-1zM936 599h1v54h-1zM940 590h1v63h-1zM944 583h1v70h-1zM948 579h1v74h-1zM952 579h1v74h-1zM956 579h1v74h-1zM960 583h1v70h-1zM964 585h1v68h-1zM968 589h1v64h-1zM972 594h1v59h-1zM976 599h1v54h-1zM980 595h1v58h-1zM984 591h1v62h-1zM988 589h1v64h-1zM992 588h1v65h-1zM996 588h1v65h-1zM1000 591h1v62h-1zM1004 593h1v60h-1zM1008 591h1v62h-1zM1012 590h1v63h-1zM1016 590h1v63h-1zM1020 589h1v64h-1zM1024 588h1v65h-1zM1028 590h1v63h-1zM1032 594h1v59h-1zM1036 596h1v57h-1zM1040 597h1v56h-1zM1044 597h1v56h-1zM1048 601h1v52h-1zM1052 605h1v48h-1zM1056 605h1v48h-1zM1060 605h1v48h-1zM1064 606h1v47h-1zM1068 607h1v46h-1zM1072 603h1v50h-1zM1076 599h1v54h-1zM1080 594h1v59h-1zM1084 589h1v64h-1zM1088 587h1v66h-1zM1092 588h1v65h-1zM1096 591h1v62h-1zM1100 595h1v58h-1zM1104 600h1v53h-1zM1108 603h1v50h-1zM1112 605h1v48h-1zM1116 608h1v45h-1zM1120 612h1v41h-1zM1124 614h1v39h-1zM1128 610h1v43h-1zM1132 608h1v45h-1zM1136 606h1v47h-1zM1140 607h1v46h-1zM1144 609h1v44h-1zM1148 610h1v43h-1zM1152 611h1v42h-1zM1156 610h1v43h-1zM1160 610h1v43h-1zM1164 616h1v37h-1zM1168 620h1v33h-1zM1172 623h1v30h-1zM1176 626h1v27h-1zM1180 624h1v29h-1zM1184 623h1v30h-1zM1188 621h1v32h-1zM1192 619h1v34h-1zM1196 624h1v29h-1zM1200 628h1v25h-1zM1204 635h1v18h-1zM1208 642h1v11h-1zM1212 645h1v8h-1zM1220 653h1v8h-1zM1224 653h1v13h-1zM1228 653h1v18h-1zM1232 653h1v20h-1zM1236 653h1v21h-1zM1240 653h1v22h-1zM1244 653h1v22h-1zM1248 653h1v21h-1zM1252 653h1v20h-1zM1256 653h1v20h-1zM1260 653h1v21h-1zM1264 653h1v23h-1zM1268 653h1v26h-1zM1272 653h1v28h-1zM1276 653h1v30h-1zM1280 653h1v30h-1zM1284 653h1v31h-1zM1288 653h1v31h-1zM1292 653h1v32h-1zM1296 653h1v33h-1zM1300 653h1v33h-1zM1304 653h1v33h-1zM1308 653h1v35h-1zM1312 653h1v36h-1zM1316 653h1v35h-1zM1320 653h1v31h-1zM1324 653h1v32h-1z" fill="#c0c0c0"/>
<polyline points="0.5,656.3 20.5,655.8 30.5,659.0 38.1,662.1 45.5,667.1 53.2,672.8 60.5,677.9 68.2,682.1 75.5,685.4 85.8,687.9 93.3,686.5 100.5,683.9 108.3,680.4 115.8,675.3 125.9,667.8 135.9,662.1 145.9,659.5 156.0,658.8 191.1,658.8 201.1,655.8 211.1,652.8 221.2,648.3 228.7,645.3 236.2,643.7 248.7,643.7 256.3,647.0 263.8,653.3 271.3,663.3 278.8,675.8 286.4,688.4 293.9,700.9 301.4,712.2 308.9,718.5 315.2,720.2 324.0,717.2 334.0,711.5 341.5,708.9 349.0,711.5 356.5,718.5 364.1,727.3 371.5,738.5 379.1,746.5 386.5,750.5 395.5,752.3 401.5,750.5 409.2,744.8 416.7,736.0 420.5,728.5 428.1,719.7 438.1,711.7 448.1,705.9 460.5,700.9 470.5,696.5 476.9,695.5 487.0,697.2 495.8,703.4 505.8,711.0 515.8,714.7 524.5,714.7 530.9,710.5 538.4,699.7 545.9,689.5 553.4,680.9 561.0,672.1 568.5,667.1 578.5,662.1 588.5,657.8 596.1,652.0 603.5,645.8 611.1,639.5 618.5,633.7 626.1,629.5 633.7,626.5 642.5,626.2 648.7,628.2 661.2,631.2 673.8,634.5 686.3,635.7 698.9,635.2 708.9,631.2 718.9,626.9 729.0,626.2 739.0,630.7 749.0,637.7 759.0,645.3 769.1,647.0 779.1,645.8 799.2,646.3 811.7,647.8 819.2,650.8 848.1,650.8 853.1,653.3 860.5,657.0 870.5,665.8 880.5,675.8 890.5,687.1 898.2,692.9 904.5,693.9 910.8,689.5 918.3,680.4 925.8,667.1 933.3,650.8 940.9,632.0 948.4,614.4 955.9,599.4 963.4,588.5 969.7,584.8 976.0,585.5 986.0,589.3 996.0,591.1 1006.1,591.8 1016.1,590.1 1028.5,590.1 1038.5,591.8 1048.7,593.1 1058.7,597.5 1068.7,601.9 1077.5,603.1 1086.3,600.5 1096.3,596.1 1106.4,594.4 1116.4,595.5 1123.9,600.5 1133.9,606.1 1146.5,608.1 1161.5,607.5 1171.5,611.9 1181.5,617.5 1191.5,619.5 1201.5,623.2 1211.7,628.2 1221.7,637.7 1231.7,650.8 1240.5,662.1 1247.5,668.5 1255.5,672.5 1261.5,672.5 1268.0,675.3 1280.5,677.1 1293.1,680.9 1305.5,685.1 1315.5,686.5 1324.5,686.5" fill="none" stroke="#ff0000" stroke-width="1" stroke-dasharray="3 3"/>
</g>
<g shape-rendering="crispEdges">
<line x1="1" y1="803.5" x2="1628" y2="803.5" stroke="#c0c0c0" stroke-width="1" stroke-dasharray="3 3"/>
<line x1="1" y1="850.5" x2="1628" y2="850.5" stroke="#c0c0c0" stroke-width="1" stroke-dasharray="3 3"/>
<line x1="1" y1="906.5" x2="1628" y2="906.5" stroke="#c0c0c0" stroke-width="1" stroke-dasharray="3 3"/>
</g>
<polyline points="0.5,859.6 4.8,862.6 9.1,860.1 13.0,850.4 16.6,857.5 20.9,866.5 25.2,875.5 29.5,877.3 32.7,876.8 37.0,873.0 40.3,881.6 45.0,894.9 49.5,882.6 53.2,884.3 56.8,885.9 61.8,884.8 65.0,885.9 69.3,878.3 73.6,876.8 77.4,879.0 81.1,883.3 84.7,888.6 88.6,870.8 92.9,856.8 96.6,858.3 101.5,853.6 104.7,852.5 108.6,843.9 112.3,846.1 116.6,842.9 121.3,854.7 124.7,853.6 129.4,845.0 133.1,842.9 136.3,855.8 141.3,862.9 145.6,856.8 149.9,856.8 153.1,859.0 157.0,855.8 160.6,861.8 164.9,851.5 168.8,859.0 173.5,853.6 176.7,854.7 181.0,861.1 184.9,860.7 187.0,843.9 189.2,836.4 193.9,835.3 198.2,834.7 200.8,836.4 204.7,843.3 209.0,847.8 213.3,839.6 217.1,827.8 221.9,830.0 225.1,832.1 229.4,840.7 233.0,848.9 236.9,845.0 240.8,861.8 244.4,863.3 249.8,870.8 253.0,875.1 256.7,879.0 260.5,886.9 264.8,894.4 269.1,897.0 272.4,896.6 276.7,905.6 281.6,902.6 288.5,904.8 292.8,902.6 300.3,904.1 304.6,898.7 310.0,888.0 312.8,868.2 316.4,875.1 320.7,877.7 325.0,869.7 329.3,876.2 333.6,881.1 337.9,890.2 341.1,899.2 345.4,901.3 349.1,906.3 350.5,902.0 353.7,898.1 358.0,899.2 361.2,900.9 364.5,894.4 368.8,894.4 373.1,900.9 376.7,903.7 380.6,884.1 386.0,883.7 389.2,885.4 392.8,889.7 396.7,864.8 401.0,863.7 404.9,861.1 409.0,866.9 412.8,861.8 416.7,864.4 421.0,870.8 425.1,863.9 428.9,873.0 432.8,875.1 437.1,863.9 440.8,865.4 445.1,857.9 449.4,859.0 453.7,865.9 461.2,865.9 464.4,867.6 468.7,865.4 472.6,867.6 477.3,879.4 481.0,885.4 484.8,884.8 489.1,890.8 493.4,882.6 496.6,876.2 500.5,879.0 505.2,874.0 509.1,875.1 513.8,870.8 517.1,871.9 520.9,877.7 524.6,869.7 526.7,860.1 528.9,840.3 535.3,840.3 540.7,848.2 545.0,846.1 548.7,856.8 552.5,859.0 556.8,857.9 561.1,857.9 564.8,859.0 568.6,845.0 572.9,836.9 577.2,842.4 581.5,845.0 585.2,847.6 589.1,845.4 592.3,840.7 596.6,828.9 600.9,831.7 604.5,832.8 609.0,828.9 613.8,833.8 617.0,837.9 621.3,836.0 625.6,834.7 629.2,832.1 633.1,837.1 636.8,834.7 640.6,851.5 644.5,858.6 648.2,841.8 651.4,840.7 656.8,840.7 661.1,836.0 665.4,841.8 669.0,844.6 672.9,841.2 677.2,841.8 680.8,841.8 685.3,850.0 689.0,847.2 692.6,839.6 696.5,822.5 699.7,819.9 704.0,819.9 707.7,821.8 708.7,822.5 712.8,831.7 716.6,825.2 720.9,859.6 724.8,853.6 729.1,866.9 732.7,852.1 737.0,849.3 741.3,847.6 748.9,846.7 752.1,850.4 757.0,860.1 760.7,850.4 765.0,846.1 769.3,841.8 774.6,844.4 781.1,843.9 785.4,852.5 789.0,862.2 792.9,849.3 796.8,850.0 800.4,850.4 804.7,857.9 809.0,855.3 812.3,846.7 816.6,843.9 821.9,848.2 829.4,850.0 832.7,848.9 837.0,852.5 841.3,860.1 846.6,864.8 853.1,865.4 857.4,872.5 861.7,880.5 865.6,884.8 872.4,883.7 877.2,888.0 881.0,900.5 884.9,878.3 889.2,868.2 893.3,863.9 896.7,866.9 901.4,857.9 904.7,843.9 908.5,835.3 913.3,834.7 917.1,827.8 921.9,825.2 925.5,821.8 928.7,821.8 933.7,810.2 936.9,808.1 948.7,808.1 953.5,816.6 956.9,817.1 961.2,826.8 969.1,826.8 972.8,832.8 976.7,832.8 980.5,817.5 985.3,812.8 989.1,817.7 992.8,815.4 997.1,814.9 1001.0,828.9 1005.2,823.1 1008.9,821.8 1016.4,817.1 1025.0,811.7 1028.9,824.0 1033.2,828.9 1042.2,820.9 1045.4,820.9 1049.1,831.0 1053.0,839.0 1053.1,839.0 1056.9,826.1 1060.8,826.8 1064.5,828.3 1068.8,825.7 1073.1,817.7 1078.4,809.6 1082.7,805.9 1084.9,805.9 1089.2,817.1 1092.8,821.4 1096.3,824.0 1101.0,834.7 1104.2,834.7 1109.6,830.0 1112.8,828.9 1117.1,834.9 1121.0,840.1 1125.1,834.3 1128.9,820.9 1132.2,818.6 1136.5,820.9 1140.8,823.5 1145.1,827.8 1148.9,836.0 1152.6,830.0 1156.9,822.9 1160.8,828.9 1165.0,848.9 1168.7,842.9 1173.0,847.2 1176.9,842.9 1181.6,833.8 1185.9,832.6 1190.2,830.0 1193.0,826.8 1196.6,848.2 1200.9,850.4 1205.2,859.4 1209.5,860.1 1212.8,855.3 1216.6,870.8 1220.3,869.1 1225.7,870.8 1229.3,869.7 1233.2,865.0 1237.5,868.2 1240.7,866.9 1245.0,850.4 1249.3,858.6 1253.6,860.5 1257.9,859.6 1262.2,861.8 1265.4,867.6 1269.3,875.8 1273.4,868.2 1277.2,869.7 1280.9,870.8 1284.8,866.9 1289.1,872.5 1294.4,873.0 1297.7,873.6 1300.9,872.5 1304.1,873.6 1308.4,875.8 1312.7,883.7 1317.0,860.7 1320.9,860.7 1323.4,869.7 1325.6,871.9" fill="none" stroke="#1e90ff" stroke-width="1" shape-rendering="crispEdges"/>
<g shape-rendering="crispEdges" fill="#000">
<rect x="0" y="30" width="1629" height="1"/>
<rect x="1628" y="30" width="1" height="901"/>
<rect x="0" y="565" width="1629" height="1"/>
<rect x="0" y="567" width="1629" height="1"/>
<rect x="0" y="768" width="1629" height="1"/>
<rect x="0" y="770" width="1629" height="1"/>
<rect x="0" y="930" width="1629" height="1"/>
<rect x="1629" y="34" width="2" height="1"/>
<rect x="1629" y="67" width="2" height="1"/>
<rect x="1629" y="100" width="2" height="1"/>
<rect x="1629" y="133" width="2" height="1"/>
<rect x="1629" y="166" width="2" height="1"/>
<rect x="1629" y="199" width="2" height="1"/>
<rect x="1629" y="232" width="2" height="1"/>
<rect x="1629" y="265" width="2" height="1"/>
<rect x="1629" y="298" width="2" height="1"/>
<rect x="1629" y="331" width="2" height="1"/>
<rect x="1629" y="364" width="2" height="1"/>
<rect x="1629" y="397" width="2" height="1"/>
<rect x="1629" y="430" width="2" height="1"/>
<rect x="1629" y="463" width="2" height="1"/>
<rect x="1629" y="496" width="2" height="1"/>
<rect x="1629" y="529" width="2" height="1"/>
<rect x="1629" y="562" width="2" height="1"/>
<rect x="1629" y="574" width="2" height="1"/>
<rect x="1629" y="653" width="2" height="1"/>
<rect x="1629" y="761" width="2" height="1"/>
<rect x="1629" y="777" width="2" height="1"/>
<rect x="1629" y="803" width="2" height="1"/>
<rect x="1629" y="850" width="2" height="1"/>
<rect x="1629" y="906" width="2" height="1"/>
<rect x="1629" y="923" width="2" height="1"/>
<rect x="0" y="931" width="1" height="3"/>
<rect x="64" y="931" width="1" height="3"/>
<rect x="128" y="931" width="1" height="3"/>
<rect x="192" y="931" width="1" height="3"/>
<rect x="256" y="931" width="1" height="3"/>
<rect x="320" y="931" width="1" height="3"/>
<rect x="384" y="931" width="1" height="3"/>
<rect x="448" y="931" width="1" height="3"/>
<rect x="512" y="931" width="1" height="3"/>
<rect x="576" y="931" width="1" height="3"/>
<rect x="640" y="931" width="1" height="3"/>
<rect x="704" y="931" width="1" height="3"/>
<rect x="768" y="931" width="1" height="3"/>
<rect x="832" y="931" width="1" height="3"/>
<rect x="896" y="931" width="1" height="3"/>
<rect x="960" y="931" width="1" height="3"/>
<rect x="1024" y="931" width="1" height="3"/>
<rect x="1088" y="931" width="1" height="3"/>
<rect x="1152" y="931" width="1" height="3"/>
<rect x="1216" y="931" width="1" height="3"/>
<rect x="1280" y="931" width="1" height="3"/>
</g>
<rect x="0" y="951" width="1675" height="1" fill="#e3e3e3" shape-rendering="crispEdges"/>
<rect x="1674" y="28" width="1" height="924" fill="#e3e3e3" shape-rendering="crispEdges"/>
</svg>
<div class="t" style="left:1634.30px;top:28px;height:14px;line-height:14px;font-size:10px;color:#000;letter-spacing:-0.478px">136.250</div>
<div class="t" style="left:1634.30px;top:61px;height:14px;line-height:14px;font-size:10px;color:#000;letter-spacing:-0.478px">135.635</div>
<div class="t" style="left:1634.30px;top:94px;height:14px;line-height:14px;font-size:10px;color:#000;letter-spacing:-0.478px">135.005</div>
<div class="t" style="left:1634.30px;top:127px;height:14px;line-height:14px;font-size:10px;color:#000;letter-spacing:-0.478px">134.390</div>
<div class="t" style="left:1634.30px;top:160px;height:14px;line-height:14px;font-size:10px;color:#000;letter-spacing:-0.478px">133.775</div>
<div class="t" style="left:1634.30px;top:193px;height:14px;line-height:14px;font-size:10px;color:#000;letter-spacing:-0.478px">133.145</div>
<div class="t" style="left:1634.30px;top:227px;height:14px;line-height:14px;font-size:10px;color:#000;letter-spacing:-0.478px">132.530</div>
<div class="t" style="left:1634.30px;top:259px;height:14px;line-height:14px;font-size:10px;color:#000;letter-spacing:-0.478px">131.915</div>
<div class="t" style="left:1634.30px;top:292px;height:14px;line-height:14px;font-size:10px;color:#000;letter-spacing:-0.478px">131.300</div>
<div class="t" style="left:1634.30px;top:325px;height:14px;line-height:14px;font-size:10px;color:#000;letter-spacing:-0.478px">130.670</div>
<div class="t" style="left:1634.30px;top:358px;height:14px;line-height:14px;font-size:10px;color:#000;letter-spacing:-0.478px">130.055</div>
<div class="t" style="left:1634.30px;top:391px;height:14px;line-height:14px;font-size:10px;color:#000;letter-spacing:-0.478px">129.440</div>
<div class="t" style="left:1634.30px;top:424px;height:14px;line-height:14px;font-size:10px;color:#000;letter-spacing:-0.478px">128.810</div>
<div class="t" style="left:1634.30px;top:457px;height:14px;line-height:14px;font-size:10px;color:#000;letter-spacing:-0.478px">128.195</div>
<div class="t" style="left:1634.30px;top:490px;height:14px;line-height:14px;font-size:10px;color:#000;letter-spacing:-0.478px">127.580</div>
<div class="t" style="left:1634.30px;top:523px;height:14px;line-height:14px;font-size:10px;color:#000;letter-spacing:-0.478px">126.950</div>
<div class="t" style="left:1634.30px;top:556px;height:14px;line-height:14px;font-size:10px;color:#000;letter-spacing:-0.478px">126.335</div>
<div class="t" style="left:1632.50px;top:568px;height:14px;line-height:14px;font-size:10px;color:#000;letter-spacing:-0.500px">0.9163</div>
<div class="t" style="left:1632.50px;top:647px;height:14px;line-height:14px;font-size:10px;color:#000;letter-spacing:-0.500px">0.00</div>
<div class="t" style="left:1632.50px;top:755px;height:14px;line-height:14px;font-size:10px;color:#000;letter-spacing:-0.500px">-1.2446</div>
<div class="t" style="left:1632.50px;top:771px;height:14px;line-height:14px;font-size:10px;color:#000;letter-spacing:-0.500px">100</div>
<div class="t" style="left:1632.50px;top:797px;height:14px;line-height:14px;font-size:10px;color:#000;letter-spacing:-0.500px">80</div>
<div class="t" style="left:1632.50px;top:844px;height:14px;line-height:14px;font-size:10px;color:#000;letter-spacing:-0.500px">50</div>
<div class="t" style="left:1632.50px;top:900px;height:14px;line-height:14px;font-size:10px;color:#000;letter-spacing:-0.500px">15</div>
<div class="t" style="left:1632.50px;top:917px;height:14px;line-height:14px;font-size:10px;color:#000;letter-spacing:-0.500px">0</div>
<div class="pl" style="top:170px;background:#ff0000"></div>
<div class="t" style="left:1634.60px;top:170px;height:14px;line-height:14px;font-size:10px;color:#fff;letter-spacing:-0.507px">133.587</div>
<div class="pl" style="top:192px;background:#ff4500"></div>
<div class="t" style="left:1634.60px;top:192px;height:14px;line-height:14px;font-size:10px;color:#fff;letter-spacing:-0.507px">133.167</div>
<div class="pl" style="top:213px;background:#32cd32"></div>
<div class="t" style="left:1634.60px;top:213px;height:14px;line-height:14px;font-size:10px;color:#fff;letter-spacing:-0.507px">132.784</div>
<div class="pl" style="top:229px;background:#000"></div>
<div class="t" style="left:1634.60px;top:229px;height:14px;line-height:14px;font-size:10px;color:#fff;letter-spacing:-0.507px">132.494</div>
<div class="pl" style="top:255px;background:#0000ff"></div>
<div class="t" style="left:1634.60px;top:255px;height:14px;line-height:14px;font-size:10px;color:#fff;letter-spacing:-0.507px">131.999</div>
<div class="pl" style="top:276px;background:#0000ff"></div>
<div class="t" style="left:1634.60px;top:276px;height:14px;line-height:14px;font-size:10px;color:#fff;letter-spacing:-0.507px">131.597</div>
<div class="t" style="left:-0.50px;top:934px;height:14px;line-height:14px;font-size:10px;color:#000;letter-spacing:-0.420px">12 Jul 2019</div>
<div class="t" style="left:63.50px;top:934px;height:14px;line-height:14px;font-size:10px;color:#000;letter-spacing:-0.420px">17 Jul 04:00</div>
<div class="t" style="left:127.50px;top:934px;height:14px;line-height:14px;font-size:10px;color:#000;letter-spacing:-0.420px">21 Jul 23:00</div>
<div class="t" style="left:191.50px;top:934px;height:14px;line-height:14px;font-size:10px;color:#000;letter-spacing:-0.420px">24 Jul 12:00</div>
<div class="t" style="left:255.50px;top:934px;height:14px;line-height:14px;font-size:10px;color:#000;letter-spacing:-0.420px">29 Jul 04:00</div>
<div class="t" style="left:319.50px;top:934px;height:14px;line-height:14px;font-size:10px;color:#000;letter-spacing:-0.420px">31 Jul 20:00</div>
<div class="t" style="left:383.50px;top:934px;height:14px;line-height:14px;font-size:10px;color:#000;letter-spacing:-0.420px">5 Aug 12:00</div>
<div class="t" style="left:447.50px;top:934px;height:14px;line-height:14px;font-size:10px;color:#000;letter-spacing:-0.420px">8 Aug 04:00</div>
<div class="t" style="left:511.50px;top:934px;height:14px;line-height:14px;font-size:10px;color:#000;letter-spacing:-0.420px">12 Aug 20:00</div>
<div class="t" style="left:575.50px;top:934px;height:14px;line-height:14px;font-size:10px;color:#000;letter-spacing:-0.420px">15 Aug 12:00</div>
<div class="t" style="left:639.50px;top:934px;height:14px;line-height:14px;font-size:10px;color:#000;letter-spacing:-0.420px">20 Aug 04:00</div>
<div class="t" style="left:703.50px;top:934px;height:14px;line-height:14px;font-size:10px;color:#000;letter-spacing:-0.420px">22 Aug 20:00</div>
<div class="t" style="left:767.50px;top:934px;height:14px;line-height:14px;font-size:10px;color:#000;letter-spacing:-0.420px">27 Aug 12:00</div>
<div class="t" style="left:831.50px;top:934px;height:14px;line-height:14px;font-size:10px;color:#000;letter-spacing:-0.420px">30 Aug 04:00</div>
<div class="t" style="left:895.50px;top:934px;height:14px;line-height:14px;font-size:10px;color:#000;letter-spacing:-0.420px">3 Sep 20:00</div>
<div class="t" style="left:959.50px;top:934px;height:14px;line-height:14px;font-size:10px;color:#000;letter-spacing:-0.420px">6 Sep 12:00</div>
<div class="t" style="left:1023.50px;top:934px;height:14px;line-height:14px;font-size:10px;color:#000;letter-spacing:-0.420px">11 Sep 04:00</div>
<div class="t" style="left:1087.50px;top:934px;height:14px;line-height:14px;font-size:10px;color:#000;letter-spacing:-0.420px">15 Sep 23:00</div>
<div class="t" style="left:1151.50px;top:934px;height:14px;line-height:14px;font-size:10px;color:#000;letter-spacing:-0.420px">18 Sep 12:00</div>
<div class="t" style="left:1215.50px;top:934px;height:14px;line-height:14px;font-size:10px;color:#000;letter-spacing:-0.420px">23 Sep 04:00</div>
<div class="t" style="left:1279.50px;top:934px;height:14px;line-height:14px;font-size:10px;color:#000;letter-spacing:-0.420px">25 Sep 20:00</div>
<div class="t" style="left:15.40px;top:33px;height:14px;line-height:14px;font-size:10px;color:#000;letter-spacing:-0.382px">GBPJPY-,H4  133.013 133.035 132.458 132.494</div>
<div class="t" style="left:4.00px;top:571px;height:14px;line-height:14px;font-size:10px;color:#000;letter-spacing:-0.288px">MACD(12,26,9) -0.3399 -0.3557</div>
<div class="t" style="left:4.00px;top:774px;height:14px;line-height:14px;font-size:10px;color:#000;letter-spacing:-0.359px">RSI(14) 36.6440</div>
<div style="position:absolute;left:1423px;top:203px;width:100px;height:33px;border:1px solid #ff0000;box-sizing:border-box;background:#fff"></div>
<div class="t " style="left:1425.20px;top:200.60px;height:38px;line-height:38px;font-size:29.40px;color:#ff0000;letter-spacing:-1.525px;">132.784</div>
<div class="cn" style="left:1422px;top:293px;">多空转折点</div>
<!-- one click trading panel -->
<div style="position:absolute;left:3px;top:50px;width:219px;height:64px;background:#fff;"></div>
<div class="red" style="left:3px;top:50px;width:52px;height:24px;background:linear-gradient(#f24e4e,#e03232);"></div>
<div class="red" style="left:170px;top:50px;width:52px;height:24px;background:linear-gradient(#f24e4e,#e03232);"></div>
<div class="red" style="left:3px;top:74px;width:109px;height:40px;background:linear-gradient(#de3030,#c41414 45%,#ae0000);"></div>
<div class="red" style="left:114px;top:74px;width:108px;height:40px;background:linear-gradient(#de3030,#c41414 45%,#ae0000);"></div>
<div style="position:absolute;left:3px;top:50px;width:52px;height:24px;box-sizing:border-box;border:1px solid #b40404;border-bottom:none;"></div>
<div style="position:absolute;left:170px;top:50px;width:52px;height:24px;box-sizing:border-box;border:1px solid #b40404;border-bottom:none;"></div>
<div style="position:absolute;left:3px;top:74px;width:109px;height:40px;box-sizing:border-box;border:1px solid #a80000;border-top:none;"></div>
<div style="position:absolute;left:114px;top:74px;width:108px;height:40px;box-sizing:border-box;border:1px solid #a80000;border-top:none;"></div>
<div style="position:absolute;left:55px;top:74px;width:57px;height:1px;background:#b40404;"></div>
<div style="position:absolute;left:114px;top:74px;width:56px;height:1px;background:#b40404;"></div>
<div style="position:absolute;left:7px;top:73px;width:44px;height:1px;background:#9c0000;"></div>
<div style="position:absolute;left:174px;top:73px;width:44px;height:1px;background:#9c0000;"></div>
<div style="position:absolute;left:7px;top:74px;width:44px;height:1px;background:#f89a9a;"></div>
<div style="position:absolute;left:174px;top:74px;width:44px;height:1px;background:#f89a9a;"></div>
<div style="position:absolute;left:57px;top:50px;width:111px;height:22px;box-sizing:border-box;border:1px solid #a6a6a6;background:#fff;"></div>
<div style="position:absolute;left:58px;top:51px;width:20px;height:20px;background:#e9e9e9;border-right:1px solid #b4b4b4;"></div>
<div style="position:absolute;left:146px;top:51px;width:21px;height:20px;background:#e9e9e9;border-left:1px solid #b4b4b4;"></div>
<div style="position:absolute;left:65px;top:59px;width:0;height:0;border-left:3px solid transparent;border-right:3px solid transparent;border-top:3px solid #000;"></div>
<div style="position:absolute;left:153px;top:58px;width:0;height:0;border-left:3px solid transparent;border-right:3px solid transparent;border-bottom:3px solid #000;"></div>
<div class="t" style="left:119.500px;top:53px;height:16px;line-height:16px;font-size:12.400px;color:#000;">1.00</div>
<div class="t" style="left:15px;top:53.500px;height:16px;line-height:16px;font-size:11.800px;color:#fff;letter-spacing:-0.800px;">SELL</div>
<div class="t" style="left:183px;top:53.500px;height:16px;line-height:16px;font-size:11.800px;color:#fff;letter-spacing:-0.200px;">BUY</div>
<div class="t" style="left:26.500px;top:94px;height:15px;line-height:15px;font-size:12.600px;color:#fff;font-weight:700;letter-spacing:-0.300px;">132</div>
<div class="t" style="left:50px;top:75px;height:38px;line-height:38px;font-size:33.500px;color:#fff;letter-spacing:-1.800px;">49</div>
<div class="t" style="left:90px;top:78px;height:14px;line-height:14px;font-size:11.800px;color:#fff;font-weight:700;">4</div>
<div class="t" style="left:136.500px;top:94px;height:15px;line-height:15px;font-size:12.600px;color:#fff;font-weight:700;letter-spacing:-0.300px;">132</div>
<div class="t" style="left:162px;top:75px;height:38px;line-height:38px;font-size:33.500px;color:#fff;letter-spacing:-1.800px;">53</div>
<div class="t" style="left:201px;top:78px;height:14px;line-height:14px;font-size:11.800px;color:#fff;font-weight:700;">2</div>
<div style="position:absolute;left:180px;top:64px;width:2px;height:37px;background:#1ec8c8;"></div>
<!-- title triangle -->
<div style="position:absolute;left:3px;top:37px;width:0;height:0;border-left:3.500px solid transparent;border-right:3.500px solid transparent;border-bottom:4px solid #000;"></div>

</body>
</html>
